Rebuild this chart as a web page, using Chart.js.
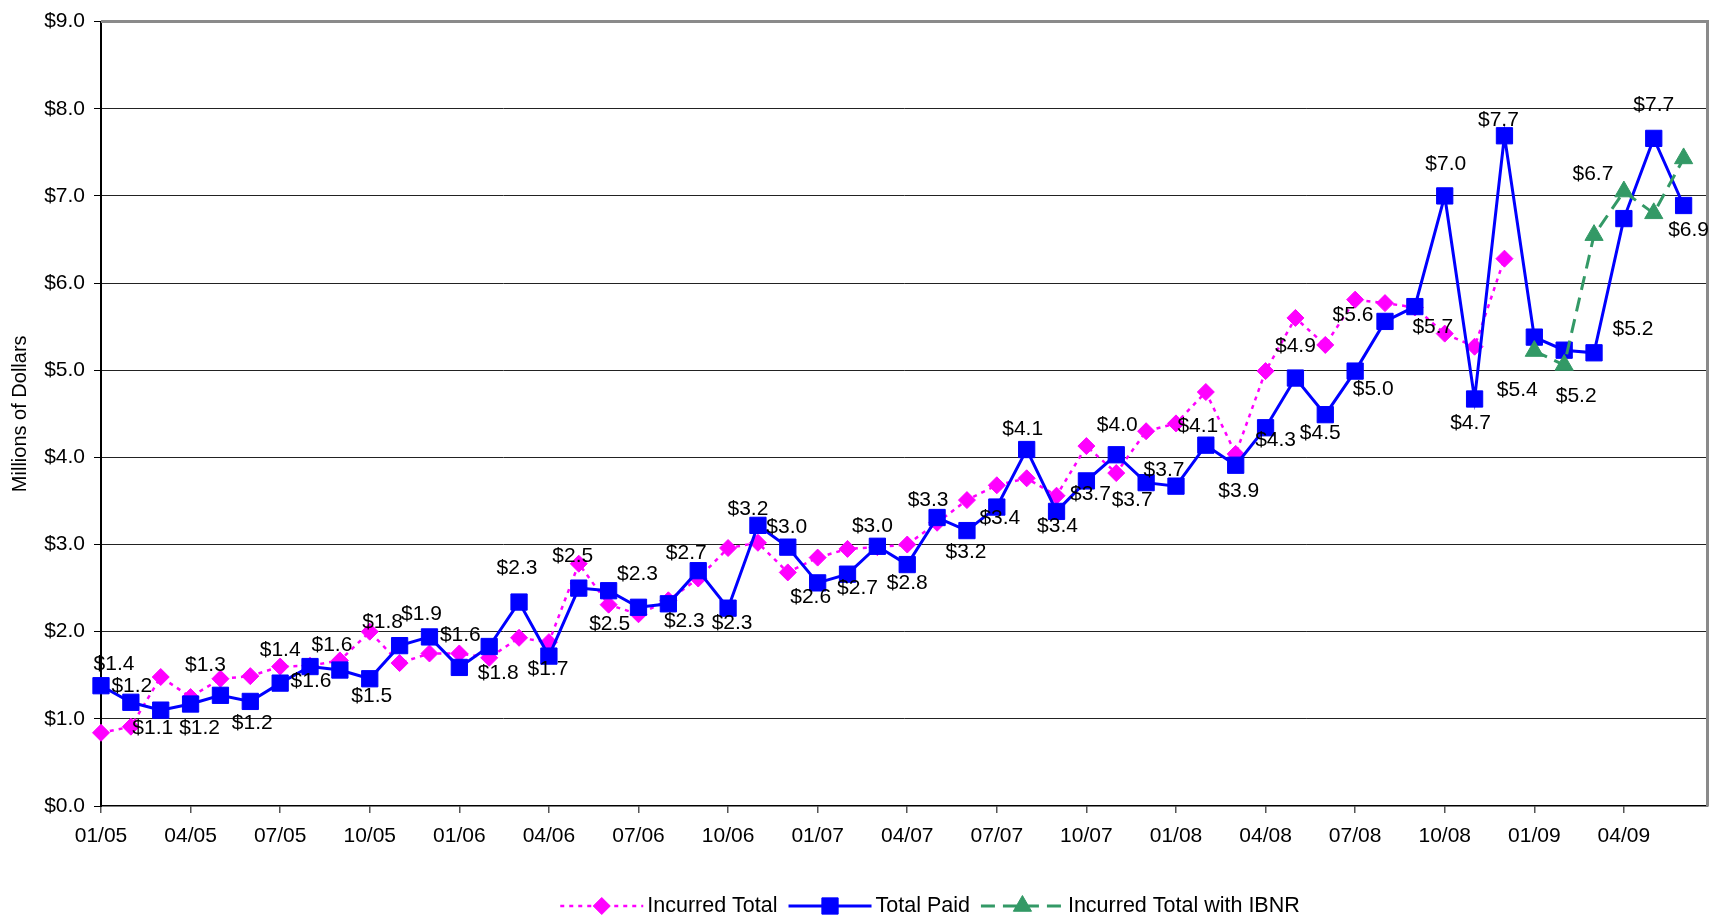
<!DOCTYPE html>
<html>
<head>
<meta charset="utf-8">
<title>Incurred and Paid Claims by Month</title>
<script src="https://cdn.jsdelivr.net/npm/chart.js@4/dist/chart.umd.min.js"></script>
<style>
  html, body { margin: 0; padding: 0; background: #ffffff; }
  #wrap { width: 1709px; height: 917px; }
  canvas { display: block; }
</style>
</head>
<body>
<div id="wrap"><canvas id="claims" width="1709" height="917"></canvas></div>
<script>
// Reporting months (MM/YY)
const months = [
  '01/05','02/05','03/05','04/05','05/05','06/05','07/05','08/05','09/05','10/05','11/05','12/05',
  '01/06','02/06','03/06','04/06','05/06','06/06','07/06','08/06','09/06','10/06','11/06','12/06',
  '01/07','02/07','03/07','04/07','05/07','06/07','07/07','08/07','09/07','10/07','11/07','12/07',
  '01/08','02/08','03/08','04/08','05/08','06/08','07/08','08/08','09/08','10/08','11/08','12/08',
  '01/09','02/09','03/09','04/09','05/09','06/09'
];

// Millions of dollars, starting 01/05
const incurredTotal = [
  0.84, 0.91, 1.48, 1.25, 1.46, 1.49, 1.60, 1.61, 1.67, 2.00, 1.64, 1.75,
  1.75, 1.70, 1.93, 1.88, 2.78, 2.31, 2.20, 2.36, 2.61, 2.96, 3.02, 2.68,
  2.85, 2.95, 2.97, 3.00, 3.25, 3.51, 3.68, 3.76, 3.56, 4.13, 3.82, 4.30,
  4.39, 4.75, 4.04, 4.99, 5.60, 5.29, 5.81, 5.77, 5.72, 5.42, 5.27, 6.28
];

const totalPaid = [
  1.38, 1.19, 1.10, 1.17, 1.27, 1.20, 1.41, 1.60, 1.56, 1.46, 1.84, 1.94,
  1.59, 1.83, 2.34, 1.72, 2.50, 2.47, 2.28, 2.32, 2.70, 2.27, 3.22, 2.97,
  2.56, 2.66, 2.98, 2.77, 3.31, 3.16, 3.43, 4.09, 3.38, 3.73, 4.03, 3.71,
  3.67, 4.14, 3.91, 4.34, 4.91, 4.49, 4.99, 5.56, 5.73, 7.00, 4.67, 7.69,
  5.38, 5.23, 5.20, 6.74, 7.66, 6.89
];

// IBNR-adjusted incurred, reported from 01/09 on
const ibnrStart = '01/09';
const incurredWithIBNR = [5.22, 5.06, 6.55, 7.05, 6.80, 7.43];

const yTicks = [0, 1, 2, 3, 4, 5, 6, 7, 8, 9];

// Where each Total Paid value label sits relative to its marker (px)
const paidLabelOffsets = [
  [13,-22],[1,-16],[-8,18],[9,24],[-15,-30],[2,22],[0,-33],[1,15],[-8,-25],[2,17],[-17,-23],[-8,-23],
  [1,-32],[9,27],[-2,-34],[-1,13],[-6,-32],[1,33],[-1,-33],[16,17],[-12,-17],[4,15],[-10,-16],[-1,-20],
  [-7,14],[10,14],[-5,-20],[0,19],[-9,-17],[-1,22],[3,11],[-4,-20],[1,15],[4,13],[1,-30],[-14,18],
  [-12,-16],[-8,-19],[3,26],[10,12],[0,-32],[-5,19],[18,18],[-32,-6],[18,21],[1,-32],[-4,24],[-6,-16],
  [-17,53],[12,46],[39,-24],[-31,-44],[0,-33],[5,25]
];

const FONT = '"Liberation Sans", Arial, Helvetica, sans-serif';
Chart.defaults.font.family = FONT;
Chart.defaults.color = '#000000';

const toPoints = (vals, start = 0) => vals.map((v, i) => ({ x: start + i, y: v }));

const whiteBackground = {
  id: 'whiteBackground',
  beforeDraw(chart) {
    const ctx = chart.ctx;
    ctx.save();
    ctx.fillStyle = '#ffffff';
    ctx.fillRect(0, 0, chart.width, chart.height);
    ctx.restore();
  }
};

// Gray frame along the top and right of the plot area
const plotFrame = {
  id: 'plotFrame',
  beforeDatasetsDraw(chart) {
    const { ctx, chartArea: a } = chart;
    ctx.save();
    ctx.strokeStyle = '#8a8a8a';
    ctx.lineWidth = 3;
    ctx.beginPath();
    ctx.moveTo(a.left, a.top);
    ctx.lineTo(a.right, a.top);
    ctx.lineTo(a.right, a.bottom);
    ctx.stroke();
    ctx.restore();
  }
};

// Dollar labels on the Total Paid markers
const paidLabels = {
  id: 'paidLabels',
  afterDatasetsDraw(chart) {
    const meta = chart.getDatasetMeta(1);
    const ctx = chart.ctx;
    ctx.save();
    ctx.font = '21px ' + FONT;
    ctx.fillStyle = '#000000';
    ctx.textAlign = 'center';
    ctx.textBaseline = 'middle';
    meta.data.forEach((pt, i) => {
      const [dx, dy] = paidLabelOffsets[i];
      ctx.fillText('$' + totalPaid[i].toFixed(1), pt.x + dx, pt.y + dy);
    });
    ctx.restore();
  }
};

// Legend row: line sample with marker, then the series name
const lineLegend = {
  id: 'lineLegend',
  afterDraw(chart) {
    const ctx = chart.ctx;
    const y = 906, sample = 83, gapText = 4, gapItem = 11, centerX = 930;
    ctx.save();
    ctx.font = '21.5px ' + FONT;
    const items = chart.data.datasets.map(ds => ({ ds, w: ctx.measureText(ds.label).width }));
    const total = items.reduce((s, it) => s + sample + gapText + it.w, 0) + gapItem * (items.length - 1);
    let x = centerX - total / 2;
    items.forEach(({ ds, w }) => {
      ctx.strokeStyle = ds.borderColor;
      ctx.lineWidth = ds.borderWidth;
      ctx.setLineDash(ds.borderDash || []);
      ctx.beginPath();
      ctx.moveTo(x, y);
      ctx.lineTo(x + sample, y);
      ctx.stroke();
      ctx.setLineDash([]);
      ctx.fillStyle = ds.backgroundColor;
      ctx.strokeStyle = ds.borderColor;
      ctx.lineWidth = ds.pointBorderWidth;
      Chart.helpers.drawPoint(ctx, {
        pointStyle: ds.pointStyle, radius: ds.pointRadius, rotation: 0, borderWidth: ds.pointBorderWidth
      }, x + sample / 2, y);
      ctx.fillStyle = '#000000';
      ctx.textAlign = 'left';
      ctx.textBaseline = 'middle';
      ctx.fillText(ds.label, x + sample + gapText, y);
      x += sample + gapText + w + gapItem;
    });
    ctx.restore();
  }
};

new Chart(document.getElementById('claims'), {
  type: 'line',
  data: {
    datasets: [
      {
        label: 'Incurred Total',
        data: toPoints(incurredTotal),
        borderColor: '#FF00FF',
        backgroundColor: '#FF00FF',
        borderWidth: 2.5,
        borderDash: [4, 5],
        pointStyle: 'rectRot',
        pointRadius: 8.5,
        pointBorderWidth: 1,
        clip: false,
        order: 3
      },
      {
        label: 'Total Paid',
        data: toPoints(totalPaid),
        borderColor: '#0000FF',
        backgroundColor: '#0000FF',
        borderWidth: 3,
        pointStyle: 'rect',
        pointRadius: 11.5,
        pointBorderWidth: 1,
        clip: false,
        order: 2
      },
      {
        label: 'Incurred Total with IBNR',
        data: toPoints(incurredWithIBNR, months.indexOf(ibnrStart)),
        borderColor: '#339966',
        backgroundColor: '#339966',
        borderWidth: 3,
        borderDash: [14, 8],
        pointStyle: 'triangle',
        pointRadius: 10.5,
        pointBorderWidth: 1,
        clip: false,
        order: 1
      }
    ]
  },
  options: {
    responsive: false,
    animation: false,
    devicePixelRatio: 1,
    layout: { autoPadding: false, padding: { top: 19, right: 1.5, bottom: 61, left: 0 } },
    plugins: {
      legend: { display: false },
      tooltip: { enabled: false }
    },
    scales: {
      x: {
        type: 'linear',
        min: 0,
        max: 53.8,
        afterBuildTicks(axis) {
          axis.ticks = months.map((m, i) => ({ value: i })).filter(t => t.value % 3 === 0);
        },
        ticks: {
          callback: v => months[v],
          autoSkip: false,
          maxRotation: 0,
          padding: 11,
          color: '#000000',
          font: { size: 21 }
        },
        grid: { drawOnChartArea: false, tickLength: 7, color: '#555555', lineWidth: 1.5 },
        border: { color: '#000000', width: 1.5 },
        afterFit(axis) {
          axis.height = 50;
          axis.paddingLeft = 0;
          axis.paddingRight = 0;
        }
      },
      y: {
        min: 0,
        max: 9,
        afterBuildTicks(axis) {
          axis.ticks = yTicks.map(v => ({ value: v }));
        },
        ticks: {
          callback: v => '$' + v.toFixed(1),
          padding: 9,
          color: '#000000',
          font: { size: 21 }
        },
        grid: {
          color: c => (c.tick && (c.tick.value === 0 || c.tick.value === 9)) ? 'rgba(0,0,0,0)' : '#222222',
          tickColor: '#000000',
          tickLength: 7,
          lineWidth: 1
        },
        border: { color: '#000000', width: 2 },
        title: {
          display: true,
          text: 'Millions of Dollars',
          color: '#000000',
          font: { size: 20 },
          padding: { top: 8, bottom: 0 }
        },
        afterFit(axis) { axis.width = 101; }
      }
    }
  },
  plugins: [whiteBackground, plotFrame, paidLabels, lineLegend]
});
</script>
</body>
</html>
